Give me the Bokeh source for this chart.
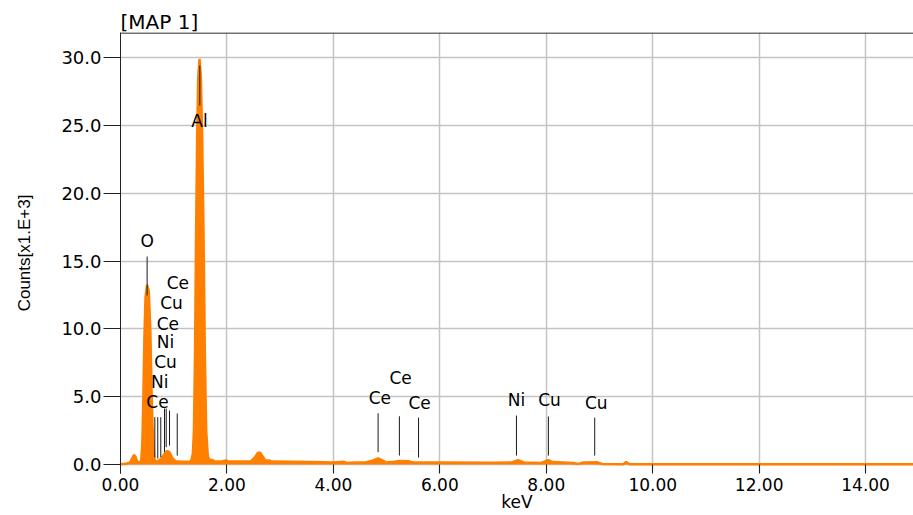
from bokeh.plotting import figure
from bokeh.models import Range1d, FixedTicker, NumeralTickFormatter, Span, ColumnDataSource
from bokeh.core.properties import value
from bokeh.embed import file_html
from bokeh.resources import INLINE

# ---- spectrum (keV, counts in 1e3) ----
spec_kev = [0.00, 0.10, 0.18, 0.22, 0.25, 0.28, 0.31, 0.35,
            0.39, 0.41, 0.43, 0.45, 0.47, 0.50, 0.53, 0.56, 0.58, 0.60, 0.62, 0.64, 0.66,
            0.70, 0.76, 0.82, 0.88, 0.92, 0.97, 1.03, 1.15, 1.25, 1.30,
            1.33, 1.36, 1.38, 1.40, 1.42, 1.44, 1.46, 1.485, 1.51, 1.535, 1.56, 1.585, 1.61, 1.64, 1.68,
            1.72, 1.78, 1.90, 1.98, 2.04, 2.30, 2.45, 2.52, 2.58, 2.62, 2.67, 2.72, 2.79, 2.85,
            3.20, 3.60, 4.00, 4.20, 4.25, 4.40, 4.60, 4.75, 4.84, 4.92, 5.00, 5.15, 5.25, 5.40, 5.50,
            6.00, 7.00, 7.35, 7.47, 7.58, 7.90, 8.04, 8.12, 8.50, 8.60, 8.70, 8.95, 9.05,
            9.45, 9.50, 9.56, 10.00, 14.90]
spec_counts = [0.02, 0.05, 0.15, 0.45, 0.70, 0.60, 0.25, 0.12,
               0.30, 1.50, 5.00, 9.50, 12.30, 13.25, 12.80, 10.00, 6.00, 3.00, 1.20, 0.40, 0.20,
               0.25, 0.40, 0.75, 1.00, 0.90, 0.50, 0.25, 0.20, 0.20, 0.20,
               0.30, 0.80, 2.50, 8.00, 17.00, 24.00, 28.50, 29.90, 28.50, 24.00, 17.00, 8.00, 2.50, 0.60, 0.30,
               0.35, 0.22, 0.22, 0.30, 0.22, 0.22, 0.25, 0.50, 0.85, 0.90, 0.60, 0.30, 0.30, 0.22,
               0.20, 0.18, 0.15, 0.20, 0.12, 0.15, 0.15, 0.30, 0.45, 0.30, 0.15, 0.20, 0.27, 0.25, 0.15,
               0.15, 0.13, 0.15, 0.33, 0.15, 0.12, 0.33, 0.18, 0.12, 0.05, 0.15, 0.17, 0.04,
               0.03, 0.18, 0.03, 0.02, 0.02]

# ---- element marker lines ----
line_kev = [1.49, 0.50, 0.645, 0.70, 0.757, 0.827, 0.859, 0.921, 1.066,
            4.84, 5.24, 5.60, 7.44, 8.04, 8.91]
line_top = [29.4, 15.33, 3.49, 3.49, 3.49, 4.13, 4.13, 3.98, 3.76,
            3.78, 3.56, 3.46, 3.61, 3.54, 3.46]
line_bottom = [26.46, 12.46, 0.54, 0.44, 0.54, 0.91, 1.28, 1.40, 0.66,
               0.91, 0.66, 0.52, 0.66, 0.66, 0.66]

# ---- element labels ----
label_text = ["Al", "O", "Ce", "Ni", "Cu", "Ni", "Ce", "Cu", "Ce",
              "Ce", "Ce", "Ce", "Ni", "Cu", "Cu"]
label_kev = [1.485, 0.50, 0.695, 0.739, 0.846, 0.846, 0.889, 0.958, 1.077,
             4.874, 5.262, 5.619, 7.442, 8.062, 8.94]
label_counts = [25.35, 16.51, 4.59, 6.07, 7.54, 9.01, 10.39, 11.89, 13.39,
                4.89, 6.39, 4.55, 4.72, 4.72, 4.55]

x_ticks = [0, 2, 4, 6, 8, 10, 12, 14]
y_ticks = [0, 5, 10, 15, 20, 25, 30]

FONT = "DejaVu Sans"
INK = "#000000"

p = figure(width=913, height=515, output_backend="svg", toolbar_location=None,
           x_range=Range1d(0, 14.90), y_range=Range1d(-0.66, 31.84),
           min_border_left=120, min_border_right=0, min_border_top=32, min_border_bottom=42,
           title="[MAP 1]")
p.background_fill_color = "white"
p.border_fill_color = "white"
p.outline_line_color = None

p.title.text_font = FONT
p.title.text_font_size = "20px"
p.title.text_font_style = "normal"
p.title.align = "left"
p.title.offset = 0
p.title.standoff = -2
p.title.text_color = INK

# grid
p.xgrid.ticker = FixedTicker(ticks=x_ticks)
p.ygrid.ticker = FixedTicker(ticks=y_ticks)
p.xgrid.grid_line_color = "#c4c4c4"
p.ygrid.grid_line_color = "#c4c4c4"
p.xgrid.grid_line_width = 1.5
p.ygrid.grid_line_width = 1.5

# x axis
xa = p.xaxis[0]
xa.ticker = FixedTicker(ticks=x_ticks)
xa.formatter = NumeralTickFormatter(format="0.00")
xa.axis_line_color = None
xa.major_tick_in = 9
xa.major_tick_out = 0
xa.major_tick_line_color = "#222222"
xa.minor_tick_line_color = None
xa.major_label_standoff = 4
xa.major_label_text_font = FONT
xa.major_label_text_font_size = "17px"
xa.major_label_text_color = INK
xa.axis_label = "keV"
xa.axis_label_text_font = FONT
xa.axis_label_text_font_size = "17px"
xa.axis_label_text_font_style = "normal"
xa.axis_label_standoff = -2
xa.axis_label_text_color = INK

# y axis
ya = p.yaxis[0]
ya.ticker = FixedTicker(ticks=y_ticks)
ya.formatter = NumeralTickFormatter(format="0.0")
ya.axis_line_color = "#222222"
ya.major_tick_in = 0
ya.major_tick_out = 17
ya.major_tick_line_color = "#222222"
ya.minor_tick_line_color = None
ya.major_label_standoff = 2
ya.major_label_text_font = FONT
ya.major_label_text_font_size = "18px"
ya.major_label_text_color = INK
ya.axis_label = "Counts[x1.E+3]"
ya.axis_label_text_font = "Liberation Sans"
ya.axis_label_text_font_size = "17px"
ya.axis_label_text_font_style = "normal"
ya.axis_label_standoff = 24
ya.axis_label_text_color = INK

# top border
p.add_layout(Span(location=31.80, dimension="width", line_color="#444444", line_width=1.5))

# spectrum
ORANGE = "#FF8000"
p.varea(x=spec_kev, y1=[0] * len(spec_kev), y2=spec_counts, fill_color=ORANGE)
p.line(x=spec_kev, y=spec_counts, line_color=ORANGE, line_width=2.5)

# marker lines
p.segment(x0=line_kev, y0=line_bottom, x1=line_kev, y1=line_top,
          line_color="#1a1a1a", line_width=1)

# labels
src = ColumnDataSource(dict(x=label_kev, y=label_counts, t=label_text))
p.text(x="x", y="y", text="t", source=src, text_font=value(FONT),
       text_font_size="17px", text_align="center", text_baseline="middle",
       text_color=INK)

open("out.html", "w").write(file_html(p, INLINE))
